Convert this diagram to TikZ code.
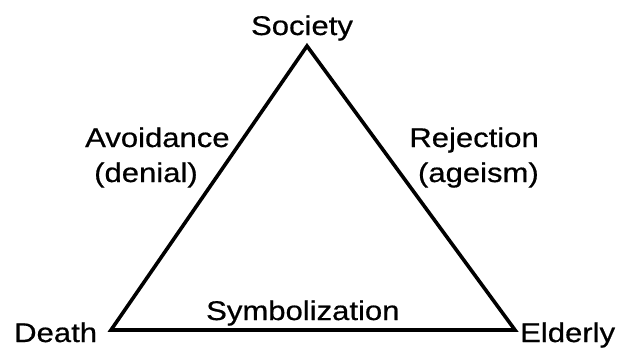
\documentclass[tikz,border=0pt]{standalone}
\usepackage{fontspec}
\newfontfamily\lblfont[FakeStretch=1.15,FakeBold=0.6]{Liberation Sans}
\begin{document}
\begin{tikzpicture}[x=1pt,y=-1pt,
  lbl/.style={inner sep=0pt,font=\lblfont\fontsize{27}{30}\selectfont},
  edge/.style={line width=3.6pt,line join=miter,line cap=butt}]
\useasboundingbox (0,0) rectangle (618,349);
\fill[white] (0,0) rectangle (618,349);
\coordinate (top) at (307,46);
\coordinate (bl) at (111,330);
\coordinate (br) at (515,330);
\draw[edge] (top) -- (bl) -- (br) -- cycle;
\node[lbl,anchor=base] (society) at (302,35) {Society};
\node[lbl,anchor=base west] (death) at (14,342) {Death};
\node[lbl,anchor=base west] (elderly) at (520,342) {Elderly};
\node[lbl,anchor=base west] (avoid) at (85,147) {Avoidance};
\node[lbl,anchor=base west] (denial) at (94,182) {(denial)};
\node[lbl,anchor=base east] (reject) at (539,147) {Rejection};
\node[lbl,anchor=base east] (ageism) at (539,182) {(ageism)};
\node[lbl,anchor=base west] (symb) at (206,320) {Symbolization};
\end{tikzpicture}
\end{document}
